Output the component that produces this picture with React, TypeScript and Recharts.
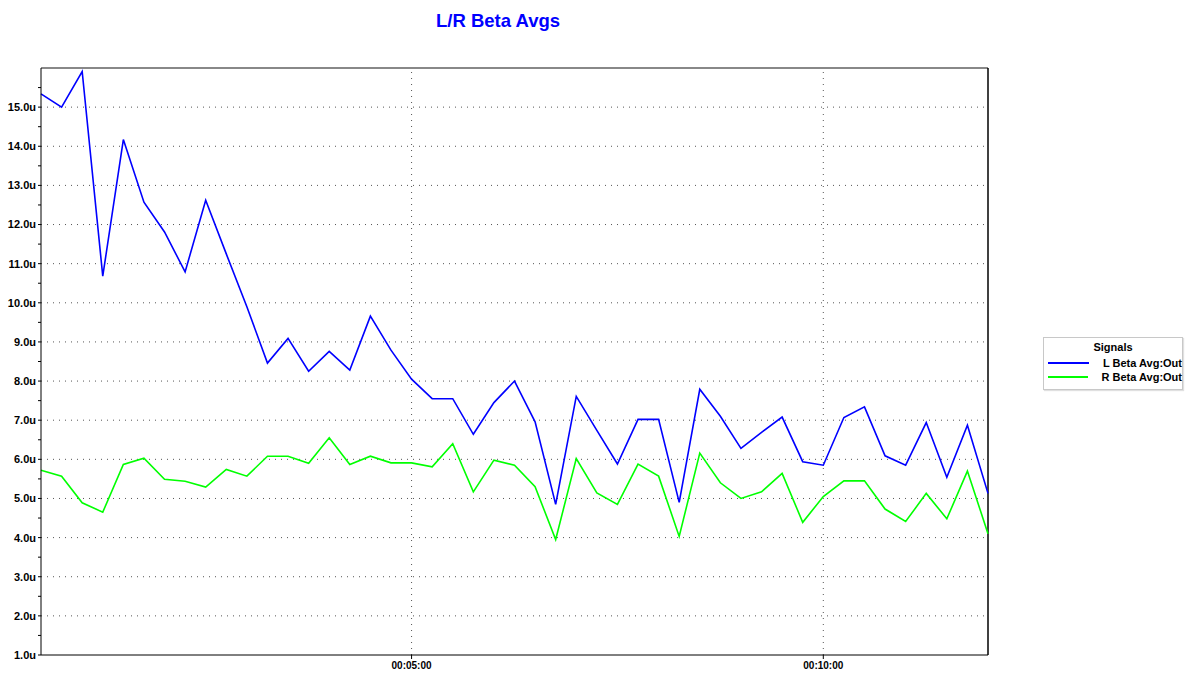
import { LineChart, Line, XAxis, YAxis, ReferenceLine, Legend } from "recharts";

// seconds from start, one sample every 15 s
const times = [
  30, 45, 60, 75, 90, 105, 120, 135, 150, 165, 180, 195, 210, 225, 240, 255,
  270, 285, 300, 315, 330, 345, 360, 375, 390, 405, 420, 435, 450, 465, 480,
  495, 510, 525, 540, 555, 570, 585, 600, 615, 630, 645, 660, 675, 690, 705,
  720,
];

const lBeta = [
  15.34, 15.0, 15.91, 10.68, 14.17, 12.57, 11.81, 10.79, 12.62, 11.25, 9.9,
  8.46, 9.09, 8.25, 8.76, 8.28, 9.66, 8.79, 8.05, 7.55, 7.55, 6.64, 7.45, 8.0,
  6.96, 4.85, 7.61, 6.74, 5.88, 7.02, 7.02, 4.9, 7.79, 7.1, 6.28, 6.69, 7.08,
  5.94, 5.85, 7.07, 7.34, 6.09, 5.85, 6.94, 5.54, 6.87, 5.13,
];

const rBeta = [
  5.72, 5.57, 4.89, 4.65, 5.87, 6.03, 5.49, 5.44, 5.29, 5.74, 5.57, 6.08,
  6.08, 5.9, 6.55, 5.87, 6.08, 5.91, 5.91, 5.81, 6.4, 5.17, 5.98, 5.85, 5.3,
  3.95, 6.02, 5.14, 4.85, 5.88, 5.57, 4.03, 6.16, 5.4, 5.0, 5.17, 5.64, 4.39,
  5.05, 5.45, 5.45, 4.73, 4.41, 5.13, 4.48, 5.7, 4.1,
];

const yTicks = [
  1, 1.5, 2, 2.5, 3, 3.5, 4, 4.5, 5, 5.5, 6, 6.5, 7, 7.5, 8, 8.5, 9, 9.5, 10,
  10.5, 11, 11.5, 12, 12.5, 13, 13.5, 14, 14.5, 15, 15.5,
];
const yGrid = [2, 3, 4, 5, 6, 7, 8, 9, 10, 11, 12, 13, 14, 15];
const xTicks = [300, 600];

const seriesNames = ["L Beta Avg:Out", "R Beta Avg:Out"];
const seriesColors = ["#0000ff", "#00ff00"];

const FONT = "'Liberation Sans', Arial, sans-serif";

function fmtTime(v: number): string {
  const h = Math.floor(v / 3600);
  const m = Math.floor((v % 3600) / 60);
  const s = Math.floor(v % 60);
  const p = (n: number) => String(n).padStart(2, "0");
  return `${p(h)}:${p(m)}:${p(s)}`;
}

function SignalsLegend() {
  return (
    <div
      style={{
        width: 140,
        height: 53,
        border: "1px solid #c8c8c8",
        boxShadow: "1px 1px 1px #e0e0e0",
        background: "#fff",
        fontFamily: FONT,
        fontSize: 11,
        fontWeight: "bold",
        color: "#000",
        boxSizing: "border-box",
        whiteSpace: "nowrap",
      }}
    >
      <div style={{ textAlign: "center", marginTop: 3, height: 15 }}>
        Signals
      </div>
      {seriesNames.map((n, i) => (
        <div key={n} style={{ display: "flex", alignItems: "center", height: 14 }}>
          <div
            style={{
              width: 41,
              height: 2,
              background: seriesColors[i],
              marginLeft: 4,
              marginRight: 14,
            }}
          />
          <span>{n}</span>
        </div>
      ))}
    </div>
  );
}

export default function App() {
  const data = times.map((t, i) => ({ t, l: lBeta[i], r: rBeta[i] }));

  return (
    <div
      style={{
        position: "absolute",
        left: 0,
        top: 0,
        width: 1189,
        height: 677,
        background: "#fff",
      }}
    >
      <div
        style={{
          position: "absolute",
          left: 0,
          top: 10,
          width: 996,
          textAlign: "center",
          fontFamily: FONT,
          fontWeight: "bold",
          fontSize: 18.5,
          color: "#0000ff",
        }}
      >
        L/R Beta Avgs
      </div>
      <LineChart
        width={1189}
        height={677}
        data={data}
        margin={{ top: 68, right: 201, bottom: 0, left: 0 }}
      >
        {yGrid.map((v) => (
          <ReferenceLine
            key={v}
            y={v}
            stroke="#555"
            strokeDasharray="1 5"
          />
        ))}
        {xTicks.map((v) => (
          <ReferenceLine
            key={v}
            x={v}
            stroke="#555"
            strokeDasharray="1 5"
          />
        ))}
        <ReferenceLine y={16} stroke="#888" strokeWidth={2} />
        <ReferenceLine x={720} stroke="#000" strokeWidth={1.5} />
        <XAxis
          dataKey="t"
          type="number"
          domain={[30, 720]}
          ticks={xTicks}
          tickFormatter={fmtTime}
          height={22}
          stroke="#000"
          tickSize={4}
          tickMargin={3}
          tick={{ fontSize: 10, fontWeight: "bold", fill: "#000", fontFamily: FONT }}
        />
        <YAxis
          type="number"
          domain={[1, 16]}
          ticks={yTicks}
          interval={0}
          width={41}
          stroke="#000"
          tickSize={3}
          tickMargin={2}
          tickFormatter={(v: number) =>
            Number.isInteger(v) ? `${v.toFixed(1)}u` : ""
          }
          tick={{ fontSize: 11, fontWeight: "bold", fill: "#000", fontFamily: FONT }}
        />
        <Legend
          layout="vertical"
          align="center"
          verticalAlign="middle"
          wrapperStyle={{ left: 1043, top: 337, width: 140 }}
          content={() => <SignalsLegend />}
        />
        <Line
          type="linear"
          dataKey="l"
          name={seriesNames[0]}
          stroke={seriesColors[0]}
          strokeWidth={1.6}
          dot={false}
          isAnimationActive={false}
        />
        <Line
          type="linear"
          dataKey="r"
          name={seriesNames[1]}
          stroke={seriesColors[1]}
          strokeWidth={1.6}
          dot={false}
          isAnimationActive={false}
        />
      </LineChart>
    </div>
  );
}
